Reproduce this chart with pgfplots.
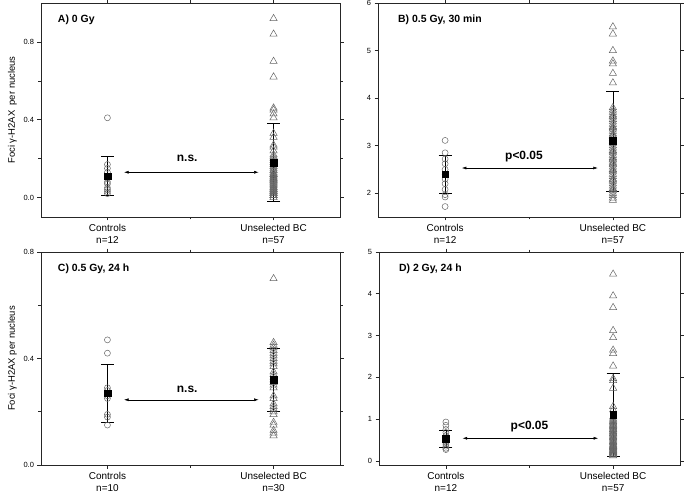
\documentclass[border=0pt]{standalone}
\usepackage{fontspec}
\setmainfont{Liberation Sans}
\usepackage{pgfplots}
\pgfplotsset{compat=1.18}
\usetikzlibrary{arrows.meta}

\pgfplotsset{
  panel/.style={
    scale only axis, anchor=south west,
    xmin=0.6, xmax=2.4,
    xtick={1,2}, minor xtick={1.5},
    xticklabel style={align=center, font=\fontsize{10}{12}\selectfont},
    yticklabel style={font=\fontsize{7.5}{8}\selectfont},
    /pgf/number format/assume math mode=true,
    tick align=outside,
    major tick length=3.5bp, minor tick length=2.5bp,
    axis line style={line width=0.8pt, black!85},
    every tick/.style={black!85, line width=0.6pt},
    ylabel style={font=\fontsize{9.5}{11}\selectfont},
    clip=false,
  },
  ctrl/.style={only marks, mark=o, mark size=3bp, mark options={draw=black!60, line width=0.5pt}},
  bc/.style={only marks, mark=triangle, mark size=4.2bp, mark options={draw=black!60, line width=0.5pt}},
  meanbar/.style={only marks, mark=square*, mark size=3.4bp, mark options={fill=black, draw=black},
    error bars/.cd, y dir=both, y explicit,
    error bar style={line width=0.6pt, black},
    error mark options={line width=0.6pt, black, mark size=6.5bp, rotate=90}},
}
\tikzset{
  sig/.style={{Latex[length=4.5pt,width=3pt]}-{Latex[length=4.5pt,width=3pt]}, line width=0.5pt},
  sigtxt/.style={font=\bfseries\fontsize{12}{14}\selectfont},
  ttl/.style={font=\bfseries\fontsize{10.5}{12}\selectfont, anchor=west},
}

\begin{document}
\begin{tikzpicture}
\useasboundingbox (0,0) rectangle (685bp,502bp);

% A) 0 Gy
\begin{axis}[panel, at={(41bp,285bp)}, width=299bp, height=214bp,
  ymin=-0.1, ymax=1.0, ytick={0,0.4,0.8}, minor ytick={0.2,0.6},
  yticklabel style={/pgf/number format/.cd, fixed, fixed zerofill, precision=1},
  xticklabels={{Controls\\n=12},{Unselected BC\\n=57}},
  ylabel={Foci γ-H2AX\ \ per nucleus}]
\addplot[ctrl] coordinates {(1,0.41) (1,0.17) (1,0.15) (1,0.13) (1,0.11) (1,0.10) (1,0.08) (1,0.07) (1,0.05) (1,0.04) (1,0.03) (1,0.02)};
\addplot[bc] coordinates {(2,0.92) (2,0.84) (2,0.70) (2,0.62) (2,0.46) (2,0.45) (2,0.43) (2,0.41) (2,0.33) (2,0.31) (2,0.27) (2,0.26) (2,0.24)
 (2,0.22) (2,0.21) (2,0.20) (2,0.19) (2,0.18) (2,0.17) (2,0.16) (2,0.15) (2,0.14) (2,0.14)
 (2,0.13) (2,0.12) (2,0.12) (2,0.11) (2,0.10) (2,0.10) (2,0.09) (2,0.09) (2,0.08) (2,0.08)
 (2,0.07) (2,0.07) (2,0.06) (2,0.06) (2,0.05) (2,0.05) (2,0.05) (2,0.04) (2,0.04) (2,0.04)
 (2,0.03) (2,0.03) (2,0.03) (2,0.02) (2,0.02) (2,0.02) (2,0.01) (2,0.01) (2,0.01) (2,0.00)
 (2,0.12) (2,0.11) (2,0.10) (2,0.09)};
\addplot[meanbar] coordinates {(1,0.11) +- (0,0.10) (2,0.18) +- (0,0.20)};
\draw[sig] (axis cs:1.10,0.13) -- (axis cs:1.91,0.13);
\node[sigtxt] at (axis cs:1.48,0.20) {n.s.};
\node[ttl] at (rel axis cs:0.045,0.92) {A) 0 Gy};
\end{axis}

% B) 0.5 Gy, 30 min
\begin{axis}[panel, at={(378bp,285bp)}, width=302bp, height=214bp,
  ymin=1.5, ymax=6, ytick={2,3,4,5,6},
  xticklabels={{Controls\\n=12},{Unselected BC\\n=57}}]
\addplot[ctrl] coordinates {(1,3.11) (1,2.85) (1,2.72) (1,2.62) (1,2.50) (1,2.40) (1,2.30) (1,2.20) (1,2.08) (1,1.97) (1,1.92) (1,1.72)};
\addplot[bc] coordinates {(2,5.50) (2,5.35) (2,5.00) (2,4.78) (2,4.72) (2,4.52) (2,4.32)
 (2,3.80) (2,3.75) (2,3.70) (2,3.65) (2,3.60) (2,3.55) (2,3.50) (2,3.45) (2,3.40) (2,3.35)
 (2,3.30) (2,3.25) (2,3.20) (2,3.15) (2,3.10) (2,3.05) (2,3.00) (2,2.95) (2,2.90) (2,2.85)
 (2,2.80) (2,2.75) (2,2.70) (2,2.65) (2,2.60) (2,2.55) (2,2.50) (2,2.45) (2,2.40) (2,2.35)
 (2,2.30) (2,2.25) (2,2.20) (2,2.15) (2,2.10) (2,2.05) (2,2.00) (2,1.95) (2,1.90) (2,1.85)
 (2,3.62) (2,3.38) (2,3.22) (2,3.08) (2,2.88) (2,2.72) (2,2.62) (2,2.48) (2,2.28) (2,2.08)};
\addplot[meanbar] coordinates {(1,2.40) +- (0,0.40) (2,3.10) +- (0,1.05)};
\draw[sig] (axis cs:1.10,2.53) -- (axis cs:1.91,2.53);
\node[sigtxt] at (axis cs:1.47,2.78) {p<0.05};
\node[ttl] at (rel axis cs:0.055,0.92) {B) 0.5 Gy, 30 min};
\end{axis}

% C) 0.5 Gy, 24 h
\begin{axis}[panel, at={(41bp,37bp)}, width=299bp, height=213bp,
  ymin=0, ymax=0.8, ytick={0,0.4,0.8}, minor ytick={0.2,0.6},
  yticklabel style={/pgf/number format/.cd, fixed, fixed zerofill, precision=1},
  xticklabels={{Controls\\n=10},{Unselected BC\\n=30}},
  ylabel={Foci γ-H2AX per nucleus}]
\addplot[ctrl] coordinates {(1,0.47) (1,0.42) (1,0.29) (1,0.28) (1,0.27) (1,0.26) (1,0.25) (1,0.19) (1,0.18) (1,0.15)};
\addplot[bc] coordinates {(2,0.70) (2,0.46) (2,0.45) (2,0.44) (2,0.43) (2,0.42) (2,0.41) (2,0.40) (2,0.39) (2,0.38)
 (2,0.37) (2,0.35) (2,0.34) (2,0.33) (2,0.32) (2,0.31) (2,0.30) (2,0.29) (2,0.26) (2,0.25)
 (2,0.23) (2,0.22) (2,0.21) (2,0.20) (2,0.19) (2,0.16) (2,0.15) (2,0.13) (2,0.12) (2,0.11)};
\addplot[meanbar] coordinates {(1,0.27) +- (0,0.11) (2,0.32) +- (0,0.12)};
\draw[sig] (axis cs:1.10,0.245) -- (axis cs:1.91,0.245);
\node[sigtxt] at (axis cs:1.48,0.285) {n.s.};
\node[ttl] at (rel axis cs:0.045,0.92) {C) 0.5 Gy, 24 h};
\end{axis}

% D) 2 Gy, 24 h
\begin{axis}[panel, at={(379bp,37bp)}, width=301bp, height=213bp,
  ymin=-0.1, ymax=5, ytick={0,1,2,3,4,5},
  xticklabels={{Controls\\n=12},{Unselected BC\\n=57}}]
\addplot[ctrl] coordinates {(1,0.93) (1,0.85) (1,0.75) (1,0.68) (1,0.60) (1,0.55) (1,0.50) (1,0.45) (1,0.40) (1,0.35) (1,0.30) (1,0.27)};
\addplot[bc] coordinates {(2,4.47) (2,3.95) (2,3.67) (2,3.12) (2,2.95) (2,2.65) (2,2.57) (2,2.27) (2,1.97) (2,1.92) (2,1.74) (2,1.30) (2,1.22)
 (2,1.05) (2,1.00) (2,0.97) (2,0.94) (2,0.91) (2,0.88) (2,0.85) (2,0.82) (2,0.79) (2,0.76)
 (2,0.73) (2,0.70) (2,0.67) (2,0.64) (2,0.61) (2,0.58) (2,0.55) (2,0.52) (2,0.49) (2,0.46)
 (2,0.43) (2,0.40) (2,0.38) (2,0.36) (2,0.34) (2,0.32) (2,0.30) (2,0.28) (2,0.26) (2,0.24)
 (2,0.22) (2,0.20) (2,0.18) (2,0.16) (2,0.14) (2,0.12)
 (2,0.85) (2,0.75) (2,0.65) (2,0.55) (2,0.45) (2,0.35) (2,0.25) (2,0.15)};
\addplot[meanbar] coordinates {(1,0.53) +- (0,0.20) (2,1.10) +- (0,1.00)};
\draw[sig] (axis cs:1.10,0.54) -- (axis cs:1.91,0.54);
\node[sigtxt] at (axis cs:1.50,0.82) {p<0.05};
\node[ttl] at (rel axis cs:0.055,0.92) {D) 2 Gy, 24 h};
\end{axis}
\end{tikzpicture}
\end{document}
